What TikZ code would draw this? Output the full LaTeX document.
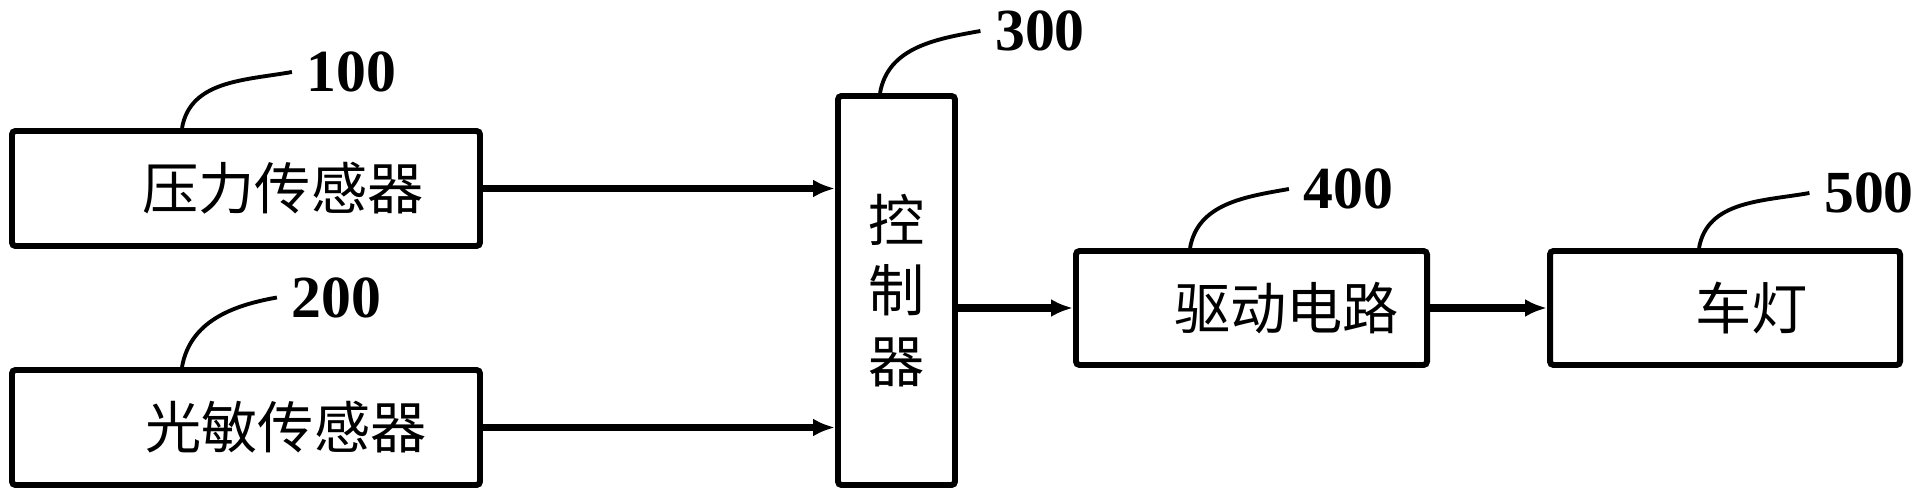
\documentclass[tikz,border=0pt]{standalone}
\usepackage{fontspec}
\setmainfont{Liberation Serif}
\newfontfamily\cjk{Noto Sans CJK SC}
\usepackage{tikz}
\usetikzlibrary{arrows.meta}

\begin{document}
\begin{tikzpicture}[unit/.style={draw, line width=1.7pt, rounded corners=1pt, inner sep=0pt, font=\cjk\fontsize{16}{20}\selectfont},
		num/.style={font=\bfseries\fontsize{17}{17}\selectfont, inner sep=4pt},
		lead/.style={line width=1.1pt},
		flow/.style={line width=2pt, -{Latex[length=2.2mm,width=1.8mm]}}]
	\useasboundingbox (0,0) rectangle (19.22,4.99);
	\node[unit, minimum width=4.68cm, minimum height=1.15cm] (s1) at (2.46,3.105) {\hspace{0.74cm}压力传感器};
	\node[unit, minimum width=4.68cm, minimum height=1.15cm] (s2) at (2.46,0.715) {\hspace{0.80cm}光敏传感器};
	\node[unit, minimum width=1.17cm, minimum height=3.89cm, align=center] (ctrl) at (8.965,2.085) {控\\制\\器};
	\node[unit, minimum width=3.51cm, minimum height=1.14cm] (drv) at (12.515,1.91) {\hspace{0.70cm}驱动电路};
	\node[unit, minimum width=3.50cm, minimum height=1.14cm] (lamp) at (17.25,1.91) {\hspace{0.53cm}车灯};
	\node[num] (n100) at (3.515,4.27) {100};
	\node[num] (n200) at (3.365,2.015) {200};
	\node[num] (n300) at (10.40,4.68) {300};
	\node[num] (n400) at (13.485,3.10) {400};
	\node[num] (n500) at (18.69,3.06) {500};
	\draw[lead] ([xshift=1.73cm]s1.north west) to[out=80,in=190] (n100.west);
	\draw[lead] ([xshift=1.73cm]s2.north west) to[out=80,in=190] (n200.west);
	\draw[lead] ([xshift=0.45cm]ctrl.north west) to[out=80,in=190] (n300.west);
	\draw[lead] ([xshift=1.17cm]drv.north west) to[out=80,in=190] (n400.west);
	\draw[lead] ([xshift=1.52cm]lamp.north west) to[out=80,in=190] (n500.west);
	\draw[flow] (s1) -- (s1 -| ctrl.west);
	\draw[flow] (s2) -- (s2 -| ctrl.west);
	\draw[flow] (drv -| ctrl.east) -- (drv);
	\draw[flow] (drv) -- (lamp);
\end{tikzpicture}
\end{document}
